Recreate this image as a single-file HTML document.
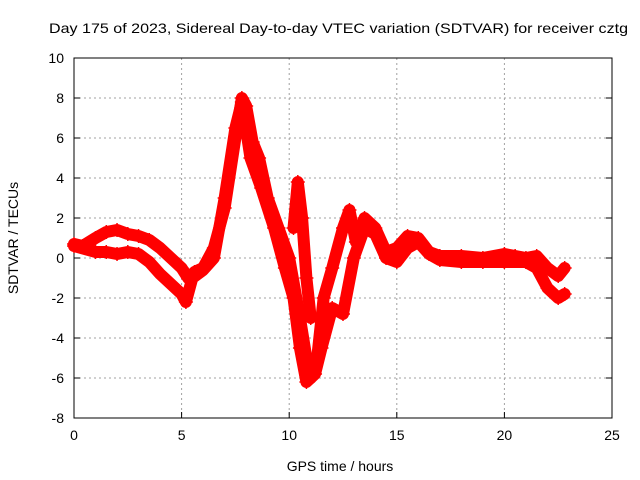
<!DOCTYPE html>
<html><head><meta charset="utf-8"><style>
body{margin:0;background:#fff;font-family:"Liberation Sans",sans-serif}
svg{display:block}
</style></head><body>
<svg id="chart" width="640" height="480" xmlns="http://www.w3.org/2000/svg"></svg>
<script>
const xTicks=[0,5,10,15,20,25];
const yTicks=[-8,-6,-4,-2,0,2,4,6,8,10];
const tA=[0,0.4,1.0,1.5,2.0,2.5,3.0,3.5,4.0,4.5,5.0,5.3,5.6,6.0,6.5,7.0,7.5,7.8,8.0,8.3,8.6,9.0,9.5,10.0,10.5,10.8,11.0,11.3,11.6,12.0,12.5,12.8,13.1,13.5,14.0,14.5,15.0,15.5,16.0,16.5,17.0,18.0,19.0,20.0,20.5,21.0,21.5,22.0,22.5,22.8];
const vA=[0.7,0.6,1.0,1.3,1.4,1.2,1.1,0.9,0.5,0,-0.5,-1.0,-0.7,-0.5,0.5,2.5,6,8,7.6,5.8,5.0,3.0,1.5,0,-3,-5,-6,-5,-2,-0.5,1.5,2.4,0.8,2.0,1.5,0.3,0.5,1.1,1.0,0.3,0.1,0.1,0.0,0.2,0.1,0,0.1,-0.5,-0.9,-0.5];
const tB=[0,1.0,1.5,2.0,2.5,3.0,3.5,4.0,4.5,5.0,5.2,5.5,6.0,6.5,7.0,7.5,7.8,8.2,8.7,9.3,9.8,10.2,10.5,10.8,11.2,11.5,12.0,12.5,13.0,13.5,14.0,14.5,15.0,15.5,16.0,16.5,17.0,18.0,19.0,20.0,21.0,21.5,22.0,22.5,22.8];
const vB=[0.6,0.3,0.3,0.2,0.3,0.2,-0.2,-0.8,-1.3,-1.8,-2.2,-1.0,-0.6,0,3,6.5,7.8,5.0,3.5,1.5,-0.5,-2,-4.5,-6.2,-5.8,-4.5,-2.5,-2.8,0,1.5,1.2,0,-0.2,0.5,0.8,0.2,-0.1,-0.2,-0.2,-0.2,-0.2,-0.5,-1.5,-2.0,-1.8];
const tC=[10.2,10.4,10.6,10.8,11.0];
const vC=[1.5,3.8,2.0,-1.0,-3.0];
const svg=document.getElementById('chart');const NS='http://www.w3.org/2000/svg';
const L=74,R=612,T=58,B=418,xmin=0,xmax=25,ymin=-8,ymax=10;
const X=v=>L+(v-xmin)/(xmax-xmin)*(R-L);
const Y=v=>B-(v-ymin)/(ymax-ymin)*(B-T);
function el(tag,attrs,txt){const e=document.createElementNS(NS,tag);for(const k in attrs)e.setAttribute(k,attrs[k]);if(txt!==undefined)e.textContent=txt;svg.appendChild(e);return e;}
const font='font-family:"Liberation Sans",sans-serif;font-size:14px';
xTicks.forEach(t=>{
 if(t>xmin&&t<xmax){const g=el('line',{x1:X(t),x2:X(t),y1:T,y2:B,stroke:'#a0a0a0','stroke-dasharray':'2,3'});
 }
 const tk=el('line',{x1:X(t),x2:X(t),y1:B,y2:B-6,stroke:'#000'});
 
 const tx=el('text',{x:X(t),y:B+22,'text-anchor':'middle',style:font},String(t));
 
});
yTicks.forEach(t=>{
 if(t>ymin&&t<ymax){const g=el('line',{x1:L,x2:R,y1:Y(t),y2:Y(t),stroke:'#a0a0a0','stroke-dasharray':'2,3'});
 }
 const tk=el('line',{x1:L,x2:L+6,y1:Y(t),y2:Y(t),stroke:'#000'});
 
 const tk2=el('line',{x1:R,x2:R-6,y1:Y(t),y2:Y(t),stroke:'#000'});
 
 const tx=el('text',{x:L-10,y:Y(t)+5,'text-anchor':'end',style:font},String(t));
 
});
const frame=el('rect',{x:L,y:T,width:R-L,height:B-T,fill:'none',stroke:'#000'});

function series(ts,vs,name){
 const pts=ts.map((t,i)=>X(t)+','+Y(vs[i])).join(' ');
 const p=el('polyline',{points:pts,fill:'none',stroke:'#ff0000','stroke-width':12,'stroke-linejoin':'round','stroke-linecap':'round'});
 
 ts.forEach((t,i)=>{const x=X(t),y=Y(vs[i]);
  const m=el('path',{d:`M${x-7},${y}h14M${x},${y-7}v14`,stroke:'#ff0000','stroke-width':1.5});
  });
}
series(tA,vA,'series-track-a');series(tB,vB,'series-track-b');series(tC,vC,'series-track-c');
const ti=el('text',{x:49,y:33,style:font,textLength:579,lengthAdjust:'spacingAndGlyphs'},'Day 175 of 2023, Sidereal Day-to-day VTEC variation (SDTVAR) for receiver cztg');

const xl=el('text',{x:340,y:471,'text-anchor':'middle',style:font},'GPS time / hours');

const yl=el('text',{x:0,y:0,'text-anchor':'middle',style:font,transform:'translate(18,238) rotate(-90)'},'SDTVAR / TECUs');

</script>
</body></html>
